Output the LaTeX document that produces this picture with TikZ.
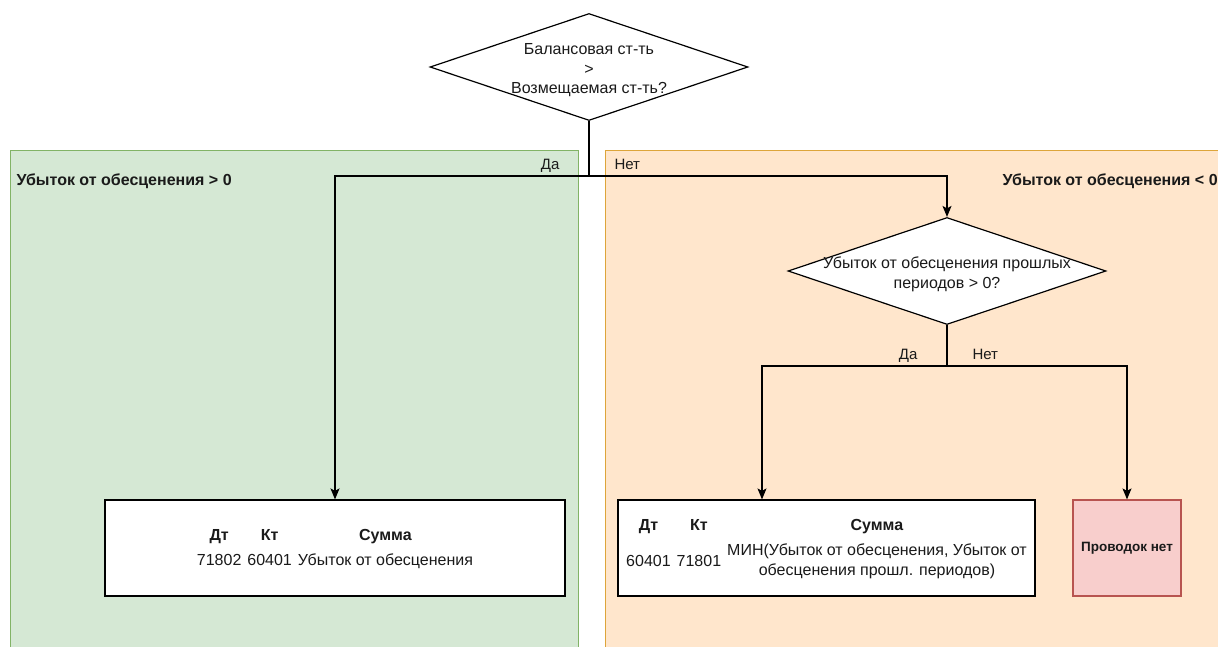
\documentclass[tikz,border=0pt]{standalone}
\usepackage{fontspec}
\setmainfont{Liberation Sans}
\usetikzlibrary{shapes.geometric, arrows.meta, positioning, calc}
\definecolor{yesfill}{HTML}{D5E8D4}
\definecolor{yesline}{HTML}{82B366}
\definecolor{nofill}{HTML}{FFE6CC}
\definecolor{noline}{HTML}{DDA53A}
\definecolor{nonefill}{HTML}{F8CECC}
\definecolor{noneline}{HTML}{B85450}
\definecolor{ink}{HTML}{1A1A1A}
\newcommand{\postcell}[1]{\renewcommand{\arraystretch}{1.05}\begin{tabular}{@{}c@{}}#1\end{tabular}}

\begin{document}
\begin{tikzpicture}[x=1pt, y=-1pt, font=\fontsize{16}{19}\selectfont, text=ink,
		zone/.style={draw, line width=0.8pt, anchor=north west, minimum height=530pt},
		question/.style={diamond, draw, line width=1.2pt, fill=white, inner sep=0pt, minimum width=318pt, minimum height=107pt},
		qtext/.style={align=center, font=\fontsize{16}{19.5}\selectfont, yshift=-3.5pt},
		postbox/.style={draw, line width=1.2pt, fill=white, minimum height=96pt},
		branch/.style={font=\fontsize{15}{18}\selectfont},
		flow/.style={line width=1.2pt, -{Stealth[length=11pt, width=9pt, inset=2.5pt]}}]
	\useasboundingbox (0,0) rectangle (1218,646);
	\node[zone, fill=yesfill, draw=yesline, minimum width=568pt] (yeszone) at (10,150) {};
	\node[zone, fill=nofill, draw=noline, minimum width=640pt] (nozone) at (605,150) {};
	\node[anchor=base west, font=\fontsize{16}{19}\bfseries] (yestitle) at (13,185) {Убыток от обесценения > 0};
	\node[anchor=base west, font=\fontsize{16}{19}\bfseries] (notitle) at (999,185) {Убыток от обесценения < 0};

	\node[question] (q1) at (589,67) {};
	\node[qtext] (q1text) at (q1) {Балансовая ст-ть\\>\\Возмещаемая ст-ть?};
	\node[question] (q2) at (947,271) {};
	\node[qtext] (q2text) at (q2) {Убыток от обесценения прошлых\\периодов > 0?};

	\begingroup
	\setlength{\tabcolsep}{3pt}\renewcommand{\arraystretch}{1.25}
	\node[postbox, minimum width=460pt] (post1) at (335,548) {\begin{tabular}{ccc}
			\textbf{Дт} & \textbf{Кт} & \textbf{Сумма}\\[1pt]
			71802 & 60401 & Убыток от обесценения
		\end{tabular}};
	\node[postbox, minimum width=417pt] (post2) at (826.5,548) {\begin{tabular}{ccc}
			\textbf{Дт} & \textbf{Кт} & \textbf{Сумма}\\[4pt]
			60401 & 71801 & \postcell{МИН(Убыток от обесценения, Убыток от\\обесценения прошл. периодов)}
		\end{tabular}};
	\endgroup
	\node[postbox, fill=nonefill, draw=noneline, minimum width=108pt, font=\fontsize{13.5}{16}\bfseries] (nopost) at (1127,548) {Проводок нет};

	\coordinate (split1) at (q1.south |- 0,176);
	\coordinate (split2) at (q2.south |- 0,366);
	\coordinate (post2in) at ([xshift=-64.5]post2.north);
	\draw[line width=1.2pt] (q1.south) -- (split1);
	\draw[line width=1.2pt] (q2.south) -- (split2);
	\foreach \from/\to in {split1/post1.north, split1/q2.north, split2/post2in, split2/nopost.north}
		\draw[flow] (\from) -| (\to);
	\foreach \s in {split1, split2} {
		\node[branch, anchor=base east] (\s yes) at ($(\s)+(-26,-7)$) {Да};
		\node[branch, anchor=base west] (\s no) at ($(\s)+(22,-7)$) {Нет};
	}
\end{tikzpicture}
\end{document}
